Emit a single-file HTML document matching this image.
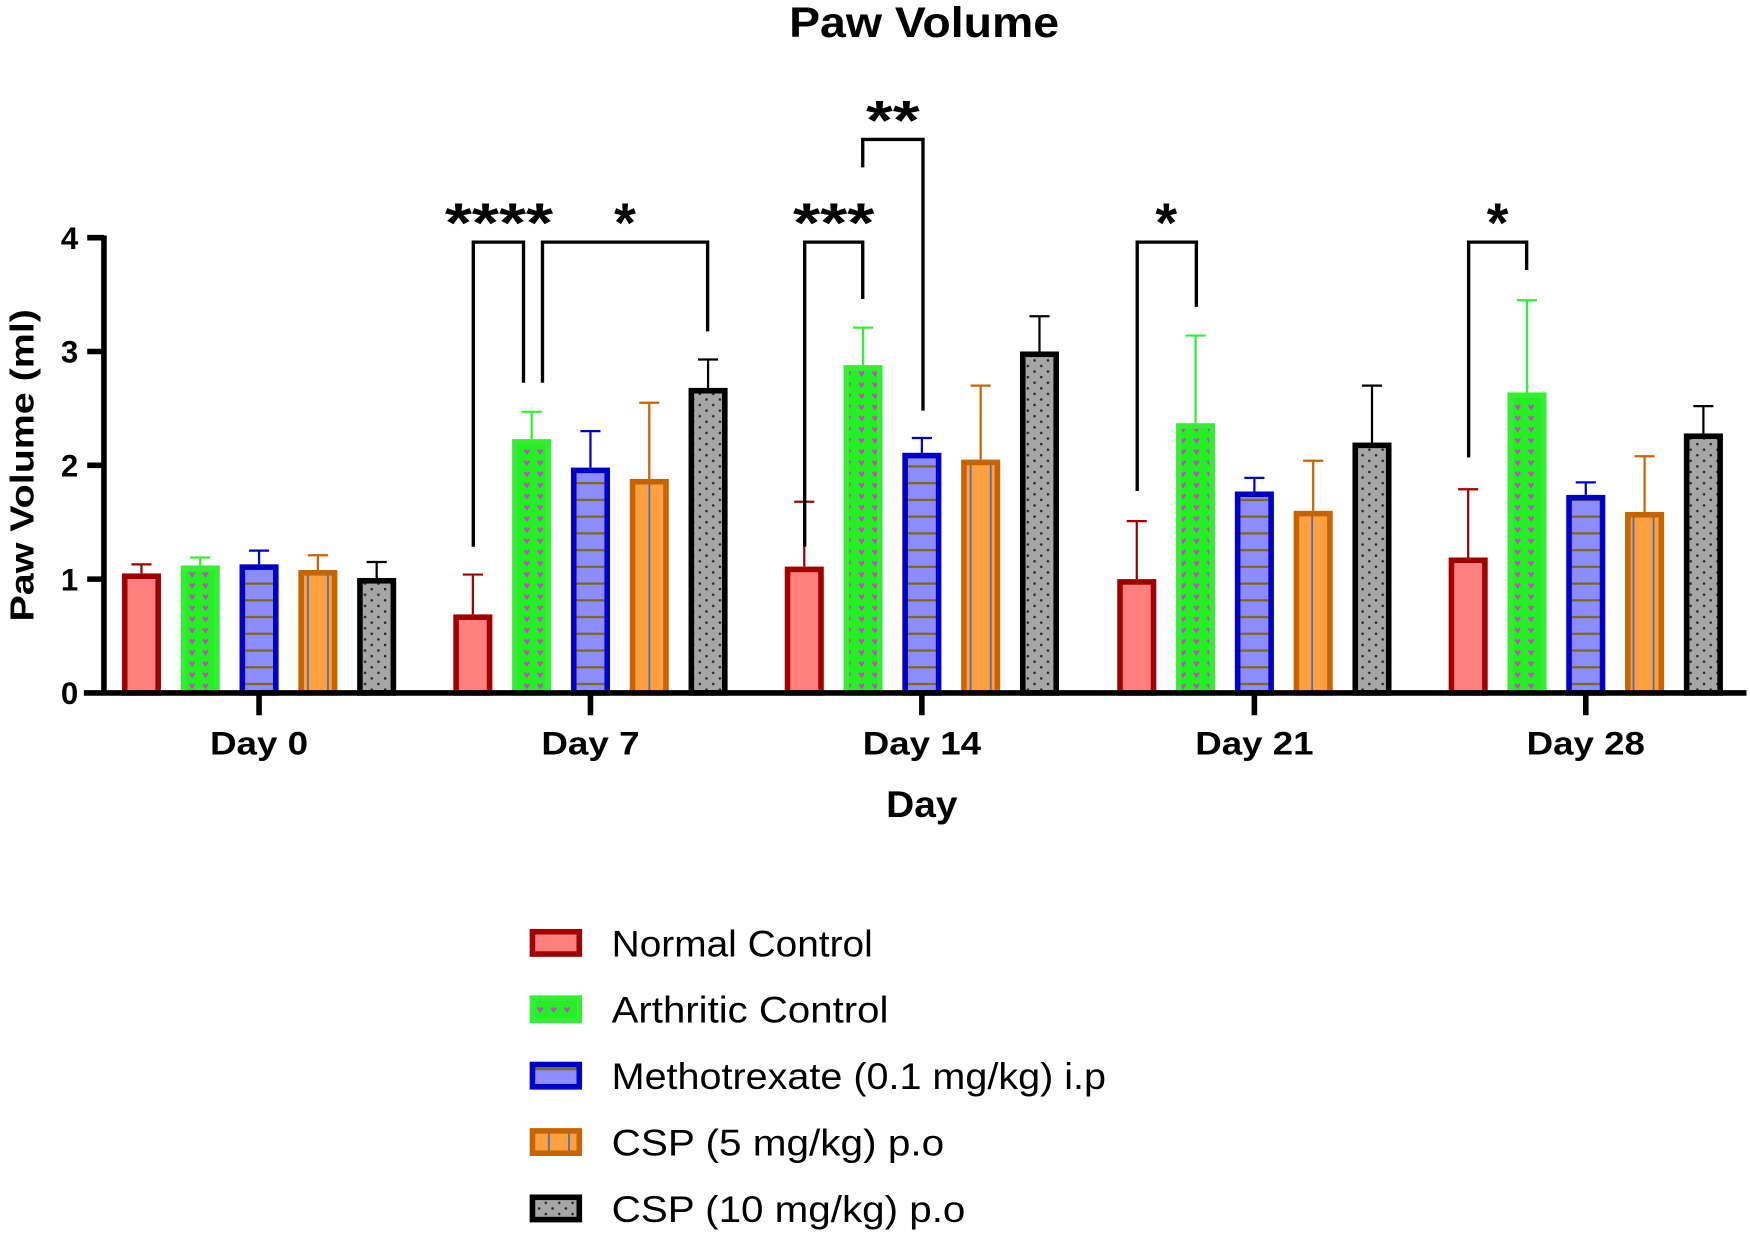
<!DOCTYPE html>
<html><head><style>html,body{margin:0;padding:0;background:#fff}svg{display:block}</style></head><body>
<svg width="1750" height="1233" viewBox="0 0 1568 1105" xmlns="http://www.w3.org/2000/svg" font-family="Liberation Sans, sans-serif">
<defs>
<pattern id="pg" width="12" height="10" patternUnits="userSpaceOnUse"><rect width="12" height="10" fill="#22f022"/><path d="M2 3 L4 6 L6 3" stroke="#d040d0" stroke-width="2" fill="none"/></pattern>
<pattern id="pb" width="10" height="15" patternUnits="userSpaceOnUse"><rect width="10" height="15" fill="#8c8cff"/><rect y="12" width="10" height="2" fill="#7a6a10"/></pattern>
<pattern id="po" width="18" height="10" patternUnits="userSpaceOnUse"><rect width="18" height="10" fill="#ffa040"/><rect x="5" width="1.5" height="10" fill="#3b6cc0"/></pattern>
<pattern id="pk" width="12" height="10" patternUnits="userSpaceOnUse"><rect width="12" height="10" fill="#a6a6a6"/><circle cx="3" cy="3" r="1.1" fill="#222"/><circle cx="9" cy="8" r="1.1" fill="#222"/></pattern>
</defs>
<text x="828" y="33" font-size="38" font-weight="bold" text-anchor="middle" textLength="242" lengthAdjust="spacingAndGlyphs">Paw Volume</text>
<g id="bars"></g>
<script>
(function(){
var ns="http://www.w3.org/2000/svg",g=document.getElementById("bars");
function el(t,a){var e=document.createElementNS(ns,t);for(var k in a)e.setAttribute(k,a[k]);g.appendChild(e);return e;}
var st=[["#a00000","#ff7f7f"],["#33ee33","url(#pg)"],["#0000c8","url(#pb)"],["#c86400","url(#po)"],["#000","url(#pk)"]];
var d=[[[1.05,1.13],[1.12,1.19],[1.13,1.25],[1.08,1.21],[1.01,1.15]],
[[0.69,1.04],[2.23,2.47],[1.98,2.30],[1.88,2.55],[2.68,2.93]],
[[1.11,1.68],[2.88,3.21],[2.11,2.24],[2.05,2.70],[3.00,3.31]],
[[1.00,1.51],[2.37,3.14],[1.77,1.89],[1.60,2.04],[2.20,2.70]],
[[1.19,1.79],[2.64,3.45],[1.74,1.85],[1.59,2.08],[2.28,2.52]]];
var cs=[232,529,826,1124,1421];
function Y(v){return 621-v*102;}
for(var i=0;i<5;i++)for(var j=0;j<5;j++){
var cx=cs[i]+(j-2)*52.7,v=d[i][j][0],e=d[i][j][1],c=st[j];
el("line",{x1:cx,x2:cx,y1:Y(v),y2:Y(e),stroke:c[0],"stroke-width":2});
el("line",{x1:cx-9,x2:cx+9,y1:Y(e),y2:Y(e),stroke:c[0],"stroke-width":2});
el("rect",{x:cx-15,y:Y(v)+2.5,width:30,height:v*102-2.5,fill:c[1],stroke:c[0],"stroke-width":5});
}
var leg=["Normal Control","Arthritic Control","Methotrexate (0.1 mg/kg) i.p","CSP (5 mg/kg) p.o","CSP (10 mg/kg) p.o"];
var lw=[234,248,443,298,317];
for(var j=0;j<5;j++){var y=845+j*59.5;
el("rect",{x:477,y:y-10,width:42,height:20,fill:st[j][1],stroke:st[j][0],"stroke-width":5});
var t=el("text",{x:548,y:y+12,"font-size":33,textLength:lw[j],lengthAdjust:"spacingAndGlyphs"});t.textContent=leg[j];}
})();
</script>
<g stroke="#000" stroke-width="5" fill="none">
<line x1="93" y1="211" x2="93" y2="623"/>
<line x1="75" y1="621" x2="1565" y2="621"/>
<line x1="78" y1="213" x2="93" y2="213"/><line x1="78" y1="315" x2="93" y2="315"/><line x1="78" y1="417" x2="93" y2="417"/><line x1="78" y1="519" x2="93" y2="519"/>
<line x1="232" y1="621" x2="232" y2="641"/><line x1="529" y1="621" x2="529" y2="641"/><line x1="826" y1="621" x2="826" y2="641"/><line x1="1124" y1="621" x2="1124" y2="641"/><line x1="1421" y1="621" x2="1421" y2="641"/>
</g>
<g stroke="#000" stroke-width="3" fill="none">
<polyline points="424,490 424,217 469,217 469,343"/>
<polyline points="486,343 486,217 634,217 634,297"/>
<polyline points="721,490 721,217 773,217 773,268"/>
<polyline points="773,150 773,125 827,125 827,368"/>
<polyline points="1019,440 1019,217 1072,217 1072,275"/>
<polyline points="1316,410 1316,217 1368,217 1368,242"/>
</g>
<g font-size="50" font-weight="bold" text-anchor="middle">
<text x="447" y="217" textLength="97" lengthAdjust="spacingAndGlyphs">****</text><text x="560" y="217">*</text>
<text x="747" y="217" textLength="73" lengthAdjust="spacingAndGlyphs">***</text><text x="800" y="125" textLength="48" lengthAdjust="spacingAndGlyphs">**</text>
<text x="1045" y="217">*</text><text x="1342" y="217">*</text>
</g>
<g font-size="28" font-weight="bold" text-anchor="end">
<text x="70" y="223">4</text><text x="70" y="325">3</text><text x="70" y="427">2</text><text x="70" y="529">1</text><text x="70" y="631">0</text>
</g>
<g font-size="29" font-weight="bold" text-anchor="middle">
<text x="232" y="676" textLength="88" lengthAdjust="spacingAndGlyphs">Day 0</text><text x="529" y="676" textLength="88" lengthAdjust="spacingAndGlyphs">Day 7</text><text x="826" y="676" textLength="106" lengthAdjust="spacingAndGlyphs">Day 14</text><text x="1124" y="676" textLength="106" lengthAdjust="spacingAndGlyphs">Day 21</text><text x="1421" y="676" textLength="106" lengthAdjust="spacingAndGlyphs">Day 28</text>
<text x="826" y="732" font-size="33" textLength="64" lengthAdjust="spacingAndGlyphs">Day</text>
<text transform="translate(30,417) rotate(-90)" font-size="30" textLength="280" lengthAdjust="spacingAndGlyphs">Paw Volume (ml)</text>
</g>
</svg>
</body></html>
